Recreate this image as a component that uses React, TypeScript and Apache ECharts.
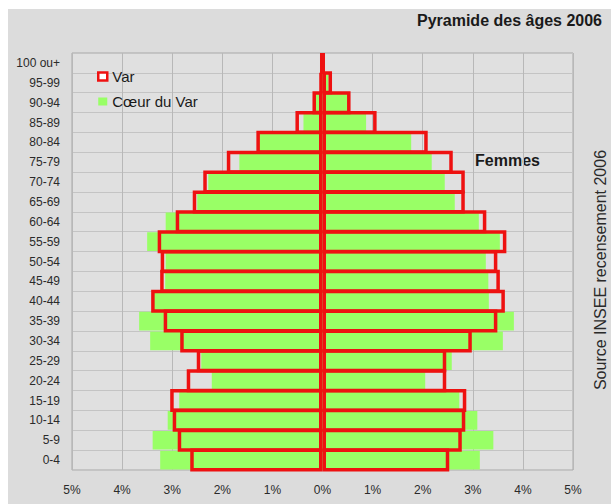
import React, { useEffect, useRef } from "react";
import * as echarts from "echarts";

const ages = ["0-4", "5-9", "10-14", "15-19", "20-24", "25-29", "30-34", "35-39", "40-44", "45-49", "50-54", "55-59", "60-64", "65-69", "70-74", "75-79", "80-84", "85-89", "90-94", "95-99", "100 ou+"];
const varHommes = [2.64, 2.89, 2.99, 3.04, 2.71, 2.51, 2.84, 3.17, 3.42, 3.24, 3.23, 3.29, 2.93, 2.59, 2.38, 1.91, 1.32, 0.54, 0.2, 0.06, 0.03];
const varFemmes = [2.53, 2.78, 2.85, 2.87, 2.47, 2.47, 2.98, 3.49, 3.64, 3.54, 3.49, 3.67, 3.27, 2.84, 2.84, 2.6, 2.1, 1.08, 0.56, 0.19, 0.03];
const coeurHommes = [3.24, 3.39, 3.09, 2.86, 2.21, 2.42, 3.44, 3.66, 3.38, 3.14, 3.13, 3.5, 3.13, 2.5, 2.28, 1.66, 1.28, 0.38, 0.14, 0.04, 0.01];
const coeurFemmes = [3.14, 3.41, 3.09, 2.73, 2.05, 2.58, 3.6, 3.82, 3.32, 3.31, 3.26, 3.54, 3.12, 2.64, 2.44, 2.18, 1.77, 0.87, 0.52, 0.12, 0.01];

const RED = "#ee1111";
const GREEN = "#99ff66";
const FONT = "Arial, 'Liberation Sans', sans-serif";

export default function App() {
  const ref = useRef<HTMLDivElement>(null);
  useEffect(() => {
    if (!ref.current) return;
    const chart = echarts.init(ref.current, null, { renderer: "svg" });
    const catAxis = (show: boolean) => ({
      type: "category",
      data: ages,
      show,
      boundaryGap: true,
      axisLine: { show: false },
      axisTick: { show: false },
      axisLabel: { show, color: "#2a2a2a", fontSize: 12, fontFamily: FONT, margin: 12 },
      splitLine: { show, lineStyle: { color: "#c4c4c4", width: 1 } },
    });
    chart.setOption({
      animation: false,
      backgroundColor: "#ffffff",
      textStyle: { fontFamily: FONT },
      graphic: [
        { type: "rect", z: -100, silent: true, shape: { x: 8, y: 9, width: 603, height: 495 }, style: { fill: "#dcdcdc" } },
        { type: "text", x: 602, y: 20, style: { text: "Pyramide des âges 2006", fill: "#1a1a1a", font: `bold 16px ${FONT}`, textAlign: "right", textVerticalAlign: "middle" } },
        { type: "text", x: 475, y: 160, style: { text: "Femmes", fill: "#1a1a1a", font: `bold 16px ${FONT}`, textAlign: "left", textVerticalAlign: "middle" } },
        { type: "text", x: 600, y: 270, rotation: Math.PI / 2, style: { text: "Source INSEE recensement 2006", fill: "#2a2a2a", font: `16px ${FONT}`, textAlign: "center", textVerticalAlign: "middle" } },
      ],
      legend: {
        orient: "vertical",
        left: 92,
        top: 64,
        itemWidth: 9,
        itemHeight: 8,
        itemGap: 10,
        textStyle: { fontSize: 15, color: "#1a1a1a", fontFamily: FONT },
        data: [
          { name: "Var", icon: "rect", itemStyle: { color: "#ffffff", borderColor: RED, borderWidth: 2.5 } },
          { name: "Cœur du Var", icon: "rect", itemStyle: { color: GREEN, borderWidth: 0 } },
        ],
      },
      grid: {
        left: 72,
        right: 38,
        top: 53,
        bottom: 34,
        show: true,
        backgroundColor: "#e0e0e0",
        borderColor: "#a8a8a8",
        borderWidth: 1,
      },
      xAxis: {
        type: "value",
        min: -5,
        max: 5,
        interval: 1,
        axisLine: { show: false },
        axisTick: { show: false },
        axisLabel: { color: "#2a2a2a", fontSize: 12, fontFamily: FONT, margin: 14, formatter: (v: number) => `${Math.abs(Math.round(v))}%` },
        splitLine: { show: true, lineStyle: { color: "#b8b8b8", width: 1 } },
      },
      yAxis: [catAxis(true), catAxis(false)],
      series: [
        { name: "Cœur du Var", type: "bar", yAxisIndex: 1, stack: "coeur", barWidth: "94%", data: coeurHommes.map((v) => -v), itemStyle: { color: GREEN } },
        { name: "Cœur du Var", type: "bar", yAxisIndex: 1, stack: "coeur", barWidth: "94%", data: coeurFemmes, itemStyle: { color: GREEN } },
        { name: "Var", type: "bar", yAxisIndex: 0, stack: "var", barWidth: 23, data: varHommes.map((v) => -v), itemStyle: { color: "rgba(0,0,0,0)", borderColor: RED, borderWidth: 3.5 } },
        { name: "Var", type: "bar", yAxisIndex: 0, stack: "var", barWidth: 23, data: varFemmes, itemStyle: { color: "rgba(0,0,0,0)", borderColor: RED, borderWidth: 3.5 } },
      ],
    });
    return () => chart.dispose();
  }, []);
  return <div ref={ref} style={{ position: "absolute", left: 0, top: 0, width: 611, height: 504 }} />;
}
